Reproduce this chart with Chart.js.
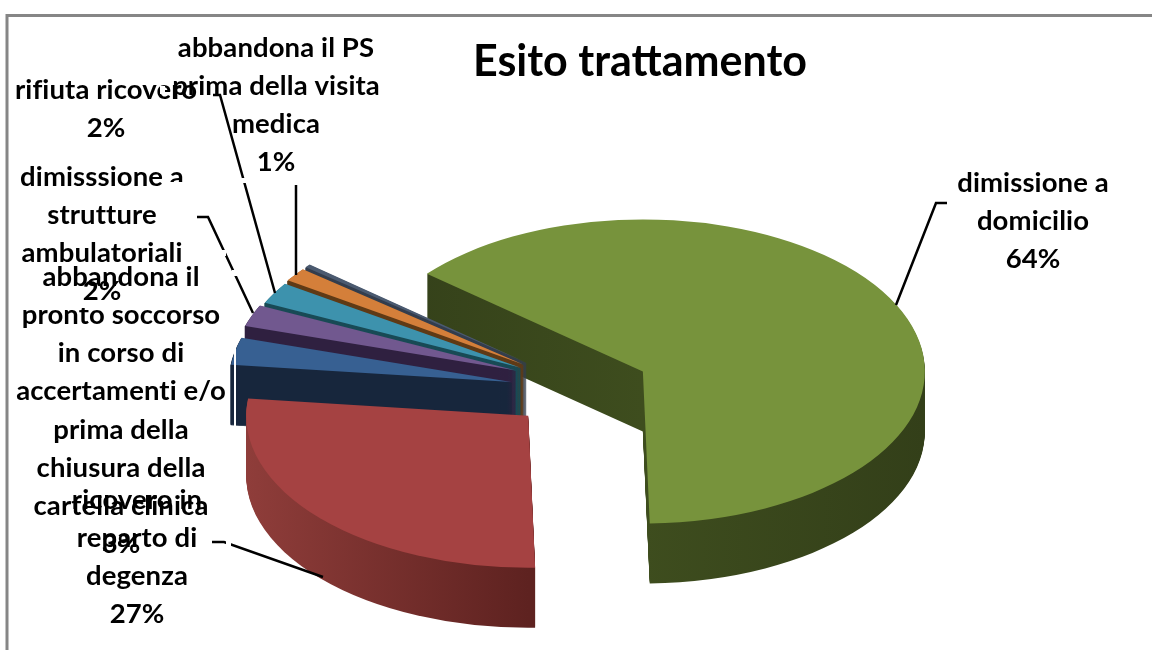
<!DOCTYPE html>
<html>
<head>
<meta charset="utf-8">
<title>Esito trattamento</title>
<script src="https://cdn.jsdelivr.net/npm/chart.js@4/dist/chart.umd.min.js"></script>
<style>
  html, body { margin: 0; padding: 0; background: #fff; overflow: hidden; }
  #container { position: absolute; left: 0; top: 0; width: 1152px; height: 650px; }
  #chart { filter: blur(0.4px); }
</style>
</head>
<body>
<div id="container"><canvas id="chart" width="1152" height="650"></canvas></div>
<script>
var chartTitle = 'Esito trattamento';
var categories = [
  'dimissione a domicilio',
  'ricovero in reparto di degenza',
  'abbandona il pronto soccorso in corso di accertamenti e/o prima della chiusura della cartella clinica',
  'dimisssione a strutture ambulatoriali',
  'rifiuta ricovero',
  'abbandona il PS prima della visita medica',
  'altro'
];
var values = [63.5, 27.2, 2.9, 2.3, 2.3, 1.45, 0.35];

var topColors = ['#77933c', '#a54242', '#376092', '#71588f', '#3d92ad', '#d47f3a', '#4b5a70'];
var wallColors = [
  ['#333f19', '#3e4d1e', '#333f19'],
  ['#8f3d3a', '#5e2220', '#5e2220'],
  ['#17263c', '#17263c', '#17263c'],
  ['#2f2040', '#2f2040', '#2f2040'],
  ['#184a55', '#184a55', '#184a55'],
  ['#5f3a15', '#5f3a15', '#5f3a15'],
  ['#333d4d', '#333d4d', '#333d4d']
];
// How far each slice is pulled out of the pie, like Excel's explosion.
var explosion = [58, 84.5, 81, 81, 81, 84, 84];
// Extra downward nudge of the small slices.
var sliceDrop = [0, 0, 6, 1, 4, 6, 6];
var drawOrder = [0, 6, 5, 4, 3, 2, 1];

var PIE_X = 590.6;
var PIE_Y = 385;
var PIE_RADIUS = 282;
var PIE_TILT = 0.539;
var PIE_DEPTH = 60;

// Label lines, one entry per slice: centre x, y of each line, wrapped text.
var labelLayout = [
  {x: 1033, y: 183, lines: ['dimissione a', 'domicilio']},
  {x: 137, y: 500, lines: ['ricovero in', 'reparto di', 'degenza']},
  {x: 121, y: 277, lines: ['abbandona il', 'pronto soccorso', 'in corso di', 'accertamenti e/o', 'prima della', 'chiusura della', 'cartella clinica']},
  {x: 102, y: 177, lines: ['dimisssione a', 'strutture', 'ambulatoriali']},
  {x: 106, y: 90, lines: ['rifiuta ricovero']},
  {x: 276, y: 48, lines: ['abbandona il PS', 'prima della visita', 'medica']}
];
var LABEL_LINE_HEIGHT = 38.2;
var leaderLines = [
  [[947, 203], [936, 203], [896, 305]],
  [[212, 542], [224, 542], [323, 577]],
  [[197, 217], [208, 217], [253, 313]],
  [[213, 95], [220, 95], [275, 293]],
  [[296, 185], [296, 275]]
];
// White bits where the original label boxes cut through text and lines.
var labelMasks = [
  [20, 302, 205, 6],
  [165, 182, 25, 6],
  [160, 86, 5, 8],
  [241, 178, 8, 5],
  [218, 250, 8, 6],
  [232, 270, 6, 6],
  [226, 541, 5, 6],
  [234, 345, 2, 90]
];


function wallGradient(ctx, arc, index) {
  var gradient = ctx.createLinearGradient(arc.x - PIE_RADIUS, 0, arc.x + PIE_RADIUS, 0);
  gradient.addColorStop(0, wallColors[index][0]);
  gradient.addColorStop(0.5, wallColors[index][1]);
  gradient.addColorStop(1, wallColors[index][2]);
  return gradient;
}


function drawSlice(ctx, arc, index) {
  var mid = (arc.startAngle + arc.endAngle) / 2;
  var dx = PIE_X - arc.x + Math.cos(mid) * explosion[index];
  var dy = PIE_Y - arc.y + Math.sin(mid) * explosion[index] * PIE_TILT + sliceDrop[index];

  // The wall is the same arc stacked downwards. Small slices get a thin border
  // so that their sharp tip stays solid.
  var wall = Object.create(arc);
  var wallBorder = arc.circumference < 0.5 ? 1.5 : 0;
  wall.options = Object.assign({}, arc.options, {borderWidth: wallBorder, borderJoinStyle: 'round'});
  for (var d = PIE_DEPTH; d >= 0; d--) {
    ctx.save();
    ctx.translate(arc.x + dx, arc.y + dy + d);
    ctx.scale(1, PIE_TILT);
    ctx.translate(-arc.x, -arc.y);
    if (d > 0) {
      wall.options.backgroundColor = wallGradient(ctx, arc, index);
      wall.options.borderColor = wall.options.backgroundColor;
      wall.draw(ctx);
    } else {
      arc.draw(ctx);
    }
    ctx.restore();
  }
}


var pie3dPlugin = {
  id: 'pie3d',
  beforeDraw: function(chart) {
    var ctx = chart.ctx;
    ctx.save();
    ctx.fillStyle = '#fff';
    ctx.fillRect(0, 0, chart.width, chart.height);
    ctx.strokeStyle = '#868686';
    ctx.lineWidth = 3;
    ctx.strokeRect(7, 15.5, 1400, 900);
    ctx.restore();
  },
  beforeDatasetsDraw: function(chart) {
    var arcs = chart.getDatasetMeta(0).data;
    for (var i = 0; i < drawOrder.length; i++) {
      drawSlice(chart.ctx, arcs[drawOrder[i]], drawOrder[i]);
    }
    return false;
  },
  afterDraw: function(chart) {
    var ctx = chart.ctx;
    ctx.save();
    ctx.fillStyle = '#000';
    ctx.font = 'bold 27.5px Lato';
    ctx.letterSpacing = '0.1px';
    ctx.textAlign = 'center';
    ctx.textBaseline = 'middle';
    for (var i = 0; i < labelLayout.length; i++) {
      var label = labelLayout[i];
      var lines = label.lines.concat([Math.round(values[i]) + '%']);
      for (var j = 0; j < lines.length; j++) {
        ctx.fillText(lines[j], label.x, label.y + j * LABEL_LINE_HEIGHT);
      }
    }
    ctx.strokeStyle = '#000';
    ctx.lineWidth = 2.5;
    for (var i = 0; i < leaderLines.length; i++) {
      ctx.beginPath();
      for (var j = 0; j < leaderLines[i].length; j++) {
        ctx.lineTo(leaderLines[i][j][0], leaderLines[i][j][1]);
      }
      ctx.stroke();
    }
    ctx.fillStyle = '#fff';
    for (var i = 0; i < labelMasks.length; i++) {
      ctx.fillRect(labelMasks[i][0], labelMasks[i][1], labelMasks[i][2], labelMasks[i][3]);
    }
    ctx.restore();
  }
};


document.addEventListener('DOMContentLoaded', function() {
  new Chart(document.getElementById('chart'), {
    type: 'pie',
    plugins: [pie3dPlugin],
    data: {
      labels: categories,
      datasets: [{
        data: values,
        backgroundColor: topColors,
        borderWidth: 0,
        radius: PIE_RADIUS,
        rotation: -50
      }]
    },
    options: {
      responsive: false,
      animation: false,
      layout: {padding: {left: 128}},
      plugins: {
        legend: {display: false},
        tooltip: {enabled: false},
        title: {
          display: true,
          text: chartTitle,
          fullSize: false,
          color: '#000',
          font: {family: 'Lato', size: 43, weight: 'bold'},
          padding: {top: 36, bottom: 0}
        }
      }
    }
  });
});
</script>
</body>
</html>
